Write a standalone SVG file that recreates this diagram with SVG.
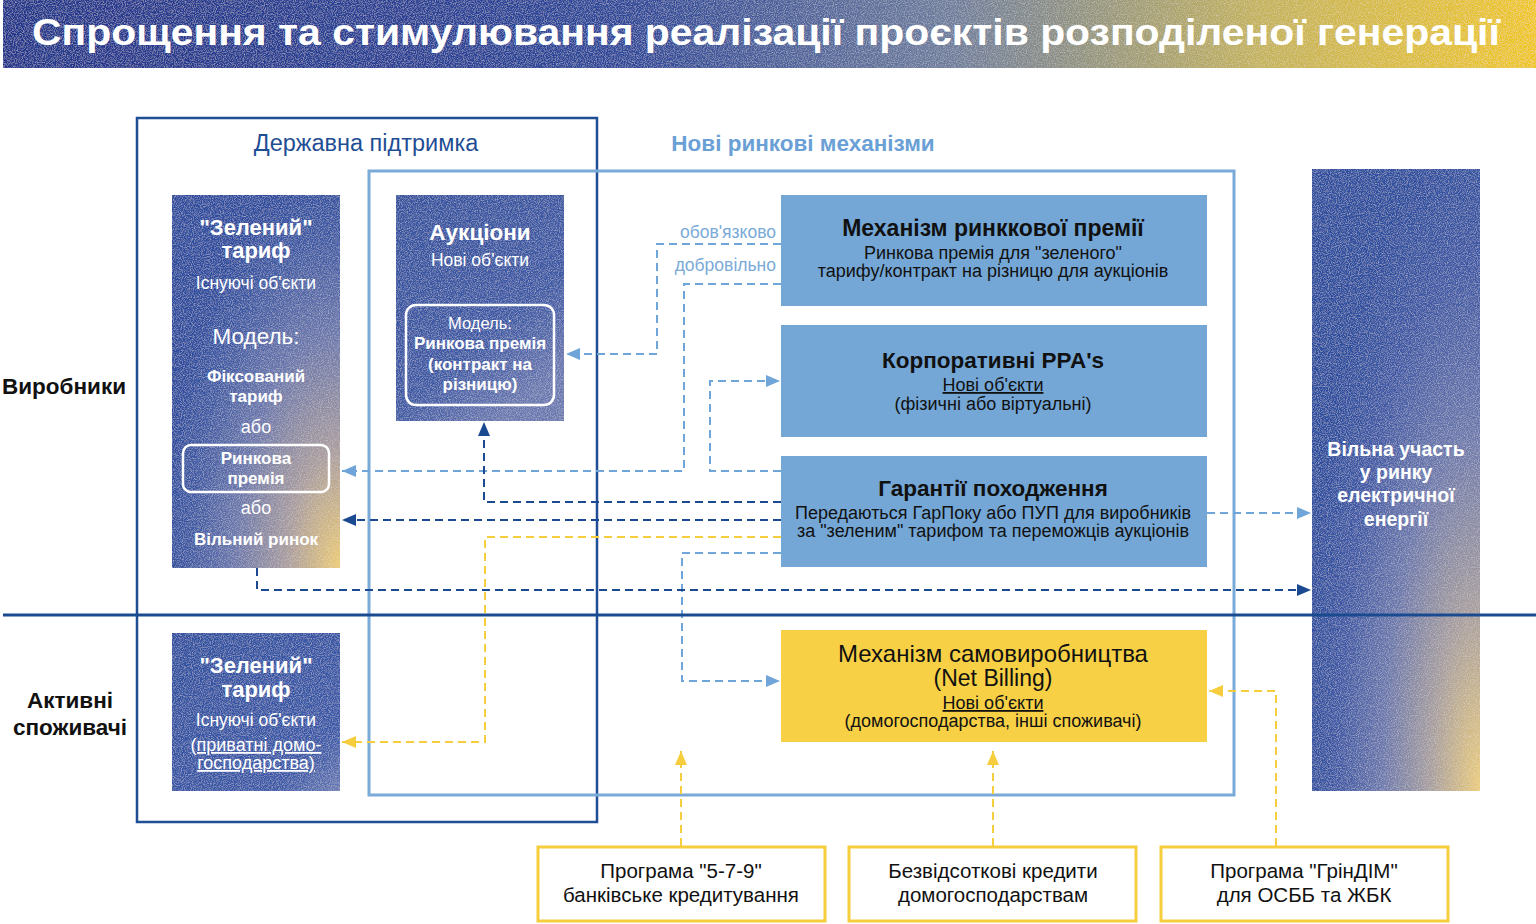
<svg xmlns="http://www.w3.org/2000/svg" width="1536" height="924" viewBox="0 0 1536 924">
<style>
text{font-family:"Liberation Sans","Noto Sans",Arial,sans-serif}
.w{fill:#fff;text-anchor:middle}
.wb{fill:#fff;text-anchor:middle;font-weight:bold}
.k{fill:#111;text-anchor:middle}
.kh{fill:#111;text-anchor:middle;font-weight:600}
.lb{fill:none;stroke:#6fa5d8;stroke-width:2;stroke-dasharray:8 5}
.db{fill:none;stroke:#1b4a90;stroke-width:2;stroke-dasharray:8 5}
.yl{fill:none;stroke:#f5cd3d;stroke-width:2;stroke-dasharray:8 5}
.bluebox{fill:#74a7d6}
.pill{fill:none;stroke:#fff;stroke-width:2.5}
.ybox{fill:#fff;stroke:#f5cd3d;stroke-width:3}
</style>
<defs>
<linearGradient id="gTitle" x1="0" y1="0" x2="1" y2="0">
<stop offset="0" stop-color="#23368c"/>
<stop offset="0.4" stop-color="#2d479a"/>
<stop offset="0.62" stop-color="#6f7d9c"/>
<stop offset="0.82" stop-color="#c4b25a"/>
<stop offset="1" stop-color="#efc623"/>
</linearGradient>
<radialGradient id="gTall" cx="1" cy="1" r="1.05" fx="1" fy="1">
<stop offset="0" stop-color="#ecca72"/>
<stop offset="0.3" stop-color="#a99c9e"/>
<stop offset="0.6" stop-color="#6a76ab"/>
<stop offset="0.85" stop-color="#3f5aa4"/>
<stop offset="1" stop-color="#2f4e9f"/>
</radialGradient>
<radialGradient id="gRight" cx="1" cy="1" r="1.05" fx="1" fy="1">
<stop offset="0" stop-color="#eacb7a"/>
<stop offset="0.28" stop-color="#a89e9e"/>
<stop offset="0.55" stop-color="#6c78ac"/>
<stop offset="0.8" stop-color="#4059a5"/>
<stop offset="1" stop-color="#2e4f9f"/>
</radialGradient>
<linearGradient id="gAuc" x1="0" y1="0" x2="0.6" y2="1">
<stop offset="0" stop-color="#34529f"/>
<stop offset="0.7" stop-color="#3e5aa5"/>
<stop offset="1" stop-color="#6a78b0"/>
</linearGradient>
<linearGradient id="gSmall" x1="0" y1="0" x2="1" y2="1">
<stop offset="0" stop-color="#3050a0"/>
<stop offset="0.8" stop-color="#3c5aa8"/>
<stop offset="1" stop-color="#6c7cb4"/>
</linearGradient>
<filter id="grain" x="0" y="0" width="100%" height="100%">
<feTurbulence type="fractalNoise" baseFrequency="0.9" numOctaves="2" stitchTiles="stitch" result="n"/>
<feColorMatrix in="n" type="matrix" values="0 0 0 0 1  0 0 0 0 1  0 0 0 0 1  0.7 0 0 0 -0.3" result="w"/>
<feComposite in="w" in2="SourceGraphic" operator="in" result="g"/>
<feMerge><feMergeNode in="SourceGraphic"/><feMergeNode in="g"/></feMerge>
</filter>
<marker id="aLB" viewBox="0 0 14 12" refX="14" refY="6" markerWidth="14" markerHeight="12" markerUnits="userSpaceOnUse" orient="auto"><path d="M0 0L14 6L0 12z" fill="#6fa5d8"/></marker>
<marker id="aDB" viewBox="0 0 14 12" refX="14" refY="6" markerWidth="14" markerHeight="12" markerUnits="userSpaceOnUse" orient="auto"><path d="M0 0L14 6L0 12z" fill="#1b4a90"/></marker>
<marker id="aYL" viewBox="0 0 14 12" refX="14" refY="6" markerWidth="14" markerHeight="12" markerUnits="userSpaceOnUse" orient="auto"><path d="M0 0L14 6L0 12z" fill="#f5cd3d"/></marker>
</defs>

<g id="title">
<rect x="3" y="0" width="1533" height="68" fill="url(#gTitle)" filter="url(#grain)"/>
<text x="32" y="45" font-size="36" font-weight="bold" fill="#fff" textLength="1468" lengthAdjust="spacingAndGlyphs">Спрощення та стимулювання реалізації проєктів розподіленої генерації</text>
</g>

<g id="frame-state">
<rect x="137" y="118" width="460" height="704" fill="none" stroke="#1f4e94" stroke-width="2.5"/>
<text x="366" y="151" font-size="23.5" fill="#1f4e94" text-anchor="middle">Державна підтримка</text>
</g>
<g id="frame-market">
<rect x="369" y="171" width="865" height="624" fill="none" stroke="#7aaad8" stroke-width="3"/>
<text x="803" y="151" font-size="22.5" font-weight="600" fill="#6aa0d6" text-anchor="middle">Нові ринкові механізми</text>
</g>

<g id="label-producers"><text x="64" y="394" font-size="22.5" font-weight="600" fill="#111" text-anchor="middle">Виробники</text></g>
<g id="label-consumers">
<text x="70" y="708" font-size="22.5" font-weight="600" fill="#111" text-anchor="middle">Активні</text>
<text x="70" y="735" font-size="22.5" font-weight="600" fill="#111" text-anchor="middle">споживачі</text>
</g>

<g id="connectors">
<path class="lb" d="M781 244H657V354H566" marker-end="url(#aLB)"/>
<path class="lb" d="M781 284H684V471H342" marker-end="url(#aLB)"/>
<path class="lb" d="M781 471H710V381H780" marker-end="url(#aLB)"/>
<path class="lb" d="M781 553H682V681H780" marker-end="url(#aLB)"/>
<path class="lb" d="M1207 513H1311" marker-end="url(#aLB)"/>
<path class="db" d="M781 502H484V422" marker-end="url(#aDB)"/>
<path class="db" d="M781 520H342" marker-end="url(#aDB)"/>
<path class="db" d="M257 568V590H1311" marker-end="url(#aDB)"/>
<path class="yl" d="M781 537H485V742H342" marker-end="url(#aYL)"/>
<path class="yl" d="M681 846V751" marker-end="url(#aYL)"/>
<path class="yl" d="M993 846V751" marker-end="url(#aYL)"/>
<path class="yl" d="M1276 846V691H1209" marker-end="url(#aYL)"/>
<text x="776" y="238" font-size="17.5" fill="#7aaad8" text-anchor="end">обов'язково</text>
<text x="776" y="271" font-size="17.5" fill="#7aaad8" text-anchor="end">добровільно</text>
</g>

<g id="green-tariff-producers">
<rect x="172" y="195" width="168" height="373" fill="url(#gTall)" filter="url(#grain)"/>
<text class="wb" x="256" y="235" font-size="22">"Зелений"</text>
<text class="wb" x="256" y="258" font-size="22">тариф</text>
<text class="w" x="256" y="289" font-size="17.5">Існуючі об'єкти</text>
<text class="w" x="256" y="344" font-size="22.5">Модель:</text>
<text class="wb" x="256" y="382" font-size="17">Фіксований</text>
<text class="wb" x="256" y="402" font-size="17">тариф</text>
<text class="w" x="256" y="433" font-size="18">або</text>
<rect class="pill" x="183" y="445" width="146" height="47" rx="8"/>
<text class="wb" x="256" y="464" font-size="17">Ринкова</text>
<text class="wb" x="256" y="484" font-size="17">премія</text>
<text class="w" x="256" y="514" font-size="18">або</text>
<text class="wb" x="256" y="545" font-size="17">Вільний ринок</text>
</g>

<g id="auctions">
<rect x="396" y="195" width="168" height="226" fill="url(#gAuc)" filter="url(#grain)"/>
<text class="wb" x="480" y="240" font-size="22.5">Аукціони</text>
<text class="w" x="480" y="266" font-size="17.5">Нові об'єкти</text>
<rect class="pill" x="406" y="305" width="148" height="100" rx="10"/>
<text class="w" x="480" y="329" font-size="16.5">Модель:</text>
<text class="wb" x="480" y="349" font-size="17">Ринкова премія</text>
<text class="wb" x="480" y="370" font-size="17">(контракт на</text>
<text class="wb" x="480" y="390" font-size="17">різницю)</text>
</g>

<g id="market-premium">
<rect class="bluebox" x="781" y="195" width="426" height="111"/>
<text class="kh" x="993" y="236" font-size="23">Механізм ринккової премії</text>
<text class="k" x="993" y="259" font-size="18">Ринкова премія для "зеленого"</text>
<text class="k" x="993" y="277" font-size="18">тарифу/контракт на різницю для аукціонів</text>
</g>

<g id="corporate-ppa">
<rect class="bluebox" x="781" y="325" width="426" height="112"/>
<text class="kh" x="993" y="368" font-size="22.5">Корпоративні PPA's</text>
<text class="k" x="993" y="391" font-size="18" text-decoration="underline">Нові об'єкти</text>
<text class="k" x="993" y="410" font-size="18">(фізичні або віртуальні)</text>
</g>

<g id="guarantees">
<rect class="bluebox" x="781" y="456" width="426" height="111"/>
<text class="kh" x="993" y="496" font-size="22.5">Гарантії походження</text>
<text class="k" x="993" y="519" font-size="18">Передаються ГарПоку або ПУП для виробників</text>
<text class="k" x="993" y="537" font-size="18">за "зеленим" тарифом та переможців аукціонів</text>
</g>

<g id="net-billing">
<rect x="781" y="630" width="426" height="112" fill="#f7d046"/>
<text class="k" x="993" y="662" font-size="24">Механізм самовиробництва</text>
<text class="k" x="993" y="686" font-size="23">(Net Billing)</text>
<text class="k" x="993" y="709" font-size="18" text-decoration="underline">Нові об'єкти</text>
<text class="k" x="993" y="727" font-size="18">(домогосподарства, інші споживачі)</text>
</g>

<g id="green-tariff-consumers">
<rect x="172" y="633" width="168" height="158" fill="url(#gSmall)" filter="url(#grain)"/>
<text class="wb" x="256" y="673" font-size="22">"Зелений"</text>
<text class="wb" x="256" y="697" font-size="22">тариф</text>
<text class="w" x="256" y="726" font-size="17.5">Існуючі об'єкти</text>
<text class="w" x="256" y="751" font-size="18" text-decoration="underline">(приватні домо-</text>
<text class="w" x="256" y="769" font-size="18" text-decoration="underline">господарства)</text>
</g>

<g id="free-market">
<rect x="1312" y="169" width="168" height="622" fill="url(#gRight)" filter="url(#grain)"/>
<text class="wb" x="1396" y="456" font-size="19.5">Вільна участь</text>
<text class="wb" x="1396" y="479" font-size="19.5">у ринку</text>
<text class="wb" x="1396" y="502" font-size="19.5">електричної</text>
<text class="wb" x="1396" y="526" font-size="19.5">енергії</text>
</g>

<g id="program-579">
<rect class="ybox" x="538" y="847" width="287" height="74"/>
<text class="k" x="681" y="878" font-size="20.5">Програма "5-7-9"</text>
<text class="k" x="681" y="902" font-size="20.5">банківське кредитування</text>
</g>
<g id="interest-free">
<rect class="ybox" x="849" y="847" width="287" height="74"/>
<text class="k" x="993" y="878" font-size="20.5">Безвідсоткові кредити</text>
<text class="k" x="993" y="902" font-size="20.5">домогосподарствам</text>
</g>
<g id="grindim">
<rect class="ybox" x="1161" y="847" width="287" height="74"/>
<text class="k" x="1304" y="878" font-size="20.5">Програма "ГрінДІМ"</text>
<text class="k" x="1304" y="902" font-size="20.5">для ОСББ та ЖБК</text>
</g>

<g id="separator"><line x1="3" y1="615" x2="1536" y2="615" stroke="#1a4a8f" stroke-width="3"/></g>
</svg>
